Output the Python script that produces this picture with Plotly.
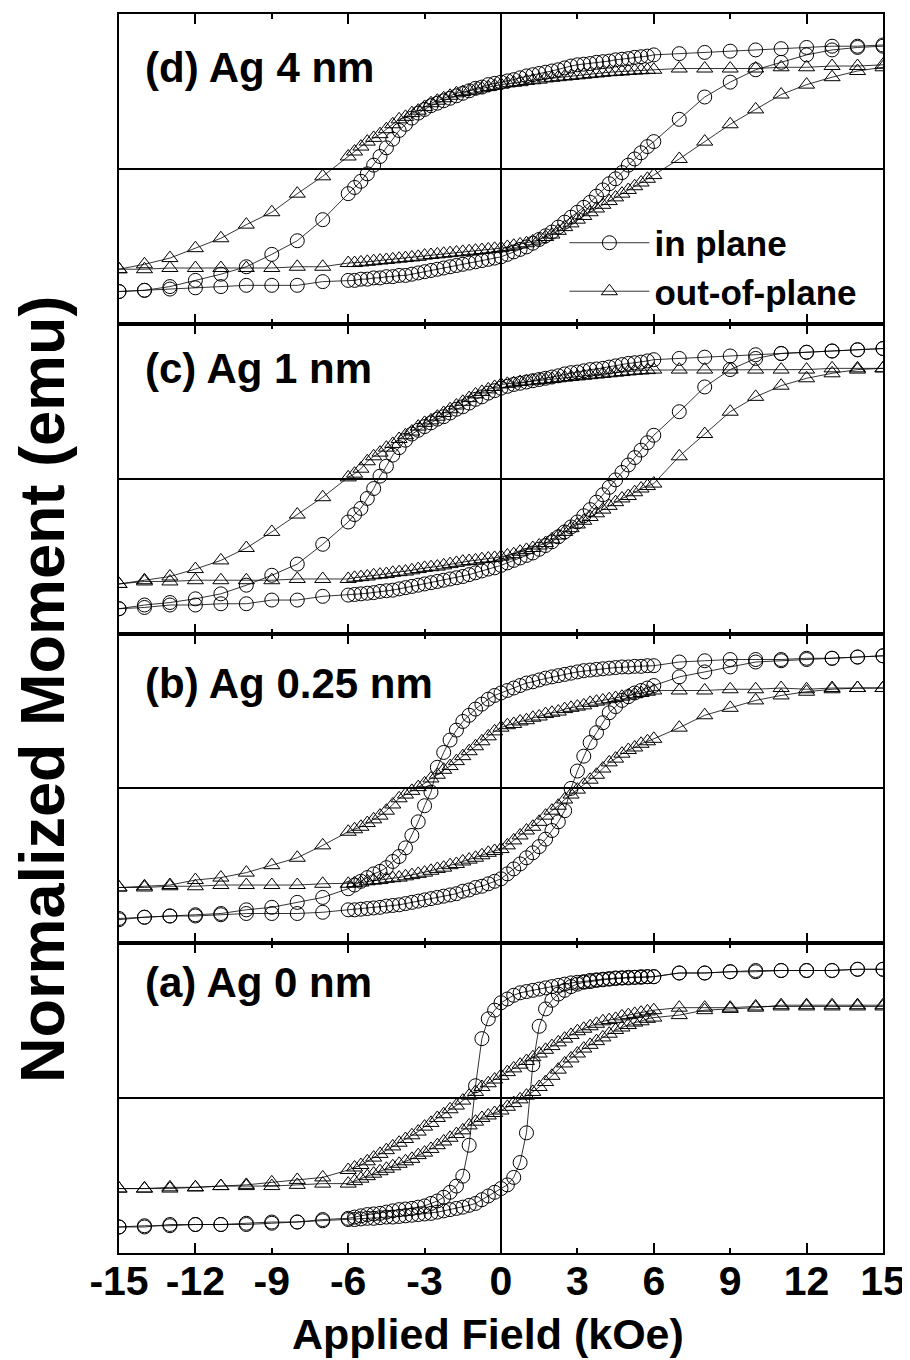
import plotly.graph_objects as go

# ---------------- data ----------------
FIELD = [-15, -14, -13, -12, -11, -10, -9, -8, -7,
         -6.0,
         -5.75, -5.5, -5.25, -5.0, -4.75, -4.5, -4.25, -4.0,
         -3.75, -3.5, -3.25, -3.0, -2.75, -2.5, -2.25, -2.0,
         -1.75, -1.5, -1.25, -1.0, -0.75, -0.5, -0.25, 0.0,
         0.25, 0.5, 0.75, 1.0, 1.25, 1.5, 1.75, 2.0,
         2.25, 2.5, 2.75, 3.0, 3.25, 3.5, 3.75, 4.0,
         4.25, 4.5, 4.75, 5.0, 5.25, 5.5, 5.75, 6.0,
         7, 8, 9, 10, 11, 12, 13, 14, 15]

TICK_VALUES = [-15, -12, -9, -6, -3, 0, 3, 6, 9, 12, 15]
TICK_LABELS = ["-15", "-12", "-9", "-6", "-3", "0", "3", "6", "9", "12", "15"]

# Panel (d) Ag 4 nm  -- values in ascending field order
D_IN_UP = [-0.99, -0.98, -0.97, -0.96, -0.95, -0.94, -0.94, -0.94, -0.91,
           -0.90,
           -0.90, -0.89, -0.89, -0.88, -0.88, -0.87, -0.87, -0.86,
           -0.86, -0.85, -0.84, -0.83, -0.82, -0.81, -0.80, -0.79,
           -0.78, -0.77, -0.76, -0.75, -0.74, -0.73, -0.72, -0.71,
           -0.69, -0.67, -0.65, -0.63, -0.60, -0.57, -0.54, -0.51,
           -0.47, -0.43, -0.39, -0.35, -0.31, -0.27, -0.22, -0.17,
           -0.12, -0.08, -0.03, 0.03, 0.08, 0.13, 0.18, 0.22,
           0.40, 0.58, 0.70, 0.80, 0.86, 0.92, 0.96, 0.98, 0.99]
D_IN_DN = [-0.99, -0.98, -0.95, -0.90, -0.85, -0.79, -0.69, -0.58, -0.41,
           -0.20,
           -0.15, -0.10, -0.04, 0.03, 0.10, 0.17, 0.24, 0.31,
           0.36, 0.41, 0.45, 0.48, 0.51, 0.53, 0.55, 0.57,
           0.59, 0.61, 0.63, 0.65, 0.66, 0.68, 0.69, 0.70,
           0.71, 0.72, 0.735, 0.75, 0.76, 0.77, 0.78, 0.79,
           0.80, 0.815, 0.83, 0.84, 0.845, 0.85, 0.86, 0.865,
           0.87, 0.88, 0.885, 0.89, 0.90, 0.905, 0.91, 0.92,
           0.93, 0.94, 0.95, 0.96, 0.97, 0.98, 0.99, 0.99, 1.00]
D_OUT_UP = [-0.81, -0.81, -0.80, -0.80, -0.80, -0.80, -0.80, -0.79, -0.79,
            -0.76,
            -0.76, -0.755, -0.75, -0.745, -0.74, -0.735, -0.73, -0.725,
            -0.72, -0.715, -0.71, -0.70, -0.695, -0.69, -0.685, -0.68,
            -0.675, -0.67, -0.665, -0.66, -0.655, -0.65, -0.645, -0.64,
            -0.63, -0.62, -0.61, -0.60, -0.585, -0.57, -0.55, -0.53,
            -0.50, -0.47, -0.44, -0.41, -0.38, -0.35, -0.32, -0.29,
            -0.26, -0.23, -0.20, -0.17, -0.14, -0.11, -0.08, -0.05,
            0.08, 0.22, 0.36, 0.48, 0.60, 0.68, 0.74, 0.79, 0.82]
D_OUT_DN = [-0.81, -0.77, -0.72, -0.64, -0.56, -0.45, -0.35, -0.20, -0.06,
            0.10,
            0.14, 0.18, 0.22, 0.25, 0.28, 0.32, 0.36, 0.40,
            0.42, 0.45, 0.47, 0.50, 0.53, 0.55, 0.57, 0.59,
            0.61, 0.62, 0.63, 0.64, 0.65, 0.66, 0.67, 0.68,
            0.69, 0.695, 0.70, 0.71, 0.715, 0.72, 0.73, 0.735,
            0.74, 0.745, 0.75, 0.755, 0.76, 0.765, 0.77, 0.775,
            0.78, 0.783, 0.786, 0.79, 0.793, 0.796, 0.798, 0.80,
            0.81, 0.81, 0.81, 0.81, 0.82, 0.82, 0.83, 0.83, 0.84]

# Panel (c) Ag 1 nm
C_IN_UP = [-1.05, -1.04, -1.02, -1.02, -1.01, -1.01, -0.98, -0.98, -0.95,
           -0.94,
           -0.935, -0.93, -0.925, -0.92, -0.91, -0.905, -0.90, -0.89,
           -0.88, -0.87, -0.86, -0.85, -0.84, -0.83, -0.82, -0.81,
           -0.80, -0.79, -0.775, -0.76, -0.745, -0.73, -0.72, -0.70,
           -0.68, -0.66, -0.64, -0.62, -0.60, -0.57, -0.54, -0.51,
           -0.47, -0.43, -0.39, -0.35, -0.30, -0.25, -0.19, -0.13,
           -0.07, -0.01, 0.05, 0.11, 0.17, 0.23, 0.29, 0.35,
           0.54, 0.74, 0.88, 0.97, 1.01, 1.02, 1.03, 1.04, 1.05]
C_IN_DN = [-1.05, -1.02, -1.00, -0.97, -0.93, -0.86, -0.78, -0.69, -0.53,
           -0.35,
           -0.29, -0.24, -0.16, -0.08, 0.02, 0.10, 0.19, 0.25,
           0.31, 0.36, 0.39, 0.42, 0.45, 0.48, 0.50, 0.53,
           0.56, 0.58, 0.61, 0.64, 0.66, 0.69, 0.71, 0.73,
           0.745, 0.76, 0.77, 0.78, 0.79, 0.80, 0.81, 0.82,
           0.83, 0.845, 0.855, 0.86, 0.87, 0.88, 0.885, 0.89,
           0.90, 0.91, 0.92, 0.93, 0.935, 0.94, 0.95, 0.96,
           0.97, 0.98, 0.99, 1.00, 1.01, 1.02, 1.03, 1.04, 1.05]
C_OUT_UP = [-0.85, -0.83, -0.83, -0.82, -0.82, -0.82, -0.82, -0.81, -0.81,
            -0.81,
            -0.80, -0.795, -0.79, -0.78, -0.775, -0.77, -0.76, -0.755,
            -0.75, -0.74, -0.73, -0.72, -0.715, -0.71, -0.70, -0.69,
            -0.68, -0.67, -0.665, -0.66, -0.65, -0.645, -0.64, -0.63,
            -0.62, -0.61, -0.59, -0.575, -0.56, -0.54, -0.52, -0.49,
            -0.46, -0.43, -0.40, -0.37, -0.34, -0.31, -0.28, -0.25,
            -0.22, -0.19, -0.16, -0.14, -0.11, -0.08, -0.06, -0.04,
            0.18, 0.36, 0.54, 0.66, 0.75, 0.81, 0.85, 0.88, 0.89]
C_OUT_DN = [-0.85, -0.82, -0.79, -0.73, -0.66, -0.56, -0.43, -0.29, -0.15,
            0.01,
            0.04, 0.08, 0.14, 0.18, 0.21, 0.25, 0.28, 0.32,
            0.35, 0.38, 0.42, 0.45, 0.47, 0.50, 0.53, 0.56,
            0.59, 0.62, 0.65, 0.68, 0.70, 0.72, 0.74, 0.76,
            0.765, 0.77, 0.78, 0.785, 0.79, 0.795, 0.80, 0.805,
            0.81, 0.815, 0.82, 0.825, 0.83, 0.835, 0.84, 0.845,
            0.85, 0.855, 0.86, 0.865, 0.87, 0.873, 0.876, 0.88,
            0.88, 0.88, 0.88, 0.88, 0.88, 0.88, 0.89, 0.89, 0.89]

# Panel (b) Ag 0.25 nm
B_IN_UP = [-1.06, -1.04, -1.03, -1.03, -1.02, -1.01, -1.01, -1.01, -1.00,
           -0.98,
           -0.98, -0.975, -0.97, -0.965, -0.96, -0.95, -0.945, -0.94,
           -0.93, -0.92, -0.91, -0.90, -0.89, -0.88, -0.87, -0.86,
           -0.85, -0.83, -0.82, -0.80, -0.79, -0.77, -0.75, -0.73,
           -0.69, -0.65, -0.61, -0.56, -0.52, -0.47, -0.41, -0.34,
           -0.27, -0.18, 0.00, 0.14, 0.26, 0.37, 0.45, 0.53,
           0.61, 0.66, 0.71, 0.74, 0.77, 0.79, 0.81, 0.83,
           0.90, 0.94, 0.98, 1.02, 1.03, 1.04, 1.05, 1.06, 1.07]
B_IN_DN = [-1.05, -1.04, -1.03, -1.02, -1.01, -0.98, -0.96, -0.92, -0.88,
           -0.81,
           -0.78, -0.75, -0.72, -0.69, -0.67, -0.64, -0.59, -0.55,
           -0.48, -0.38, -0.27, -0.14, -0.03, 0.17, 0.29, 0.39,
           0.47, 0.54, 0.59, 0.64, 0.68, 0.72, 0.75, 0.77,
           0.79, 0.81, 0.83, 0.85, 0.86, 0.875, 0.89, 0.90,
           0.91, 0.92, 0.93, 0.94, 0.95, 0.955, 0.96, 0.965,
           0.97, 0.975, 0.98, 0.98, 0.985, 0.985, 0.99, 0.99,
           1.02, 1.03, 1.04, 1.04, 1.04, 1.05, 1.05, 1.06, 1.07]
B_OUT_UP = [-0.80, -0.80, -0.79, -0.79, -0.78, -0.78, -0.78, -0.78, -0.77,
            -0.77,
            -0.765, -0.76, -0.75, -0.745, -0.74, -0.73, -0.725, -0.72,
            -0.71, -0.70, -0.69, -0.68, -0.665, -0.65, -0.64, -0.62,
            -0.61, -0.59, -0.575, -0.56, -0.54, -0.52, -0.505, -0.49,
            -0.46, -0.42, -0.38, -0.34, -0.31, -0.27, -0.22, -0.18,
            -0.14, -0.09, -0.05, -0.01, 0.03, 0.07, 0.11, 0.16,
            0.21, 0.24, 0.28, 0.31, 0.33, 0.36, 0.38, 0.40,
            0.49, 0.59, 0.65, 0.71, 0.75, 0.78, 0.80, 0.81, 0.81]
B_OUT_DN = [-0.80, -0.79, -0.78, -0.74, -0.72, -0.68, -0.62, -0.56, -0.46,
            -0.35,
            -0.33, -0.31, -0.28, -0.25, -0.22, -0.18, -0.13, -0.08,
            -0.05, -0.02, 0.01, 0.04, 0.08, 0.11, 0.15, 0.18,
            0.22, 0.26, 0.30, 0.34, 0.38, 0.42, 0.46, 0.49,
            0.51, 0.52, 0.54, 0.55, 0.57, 0.58, 0.60, 0.61,
            0.62, 0.64, 0.65, 0.66, 0.67, 0.69, 0.70, 0.71,
            0.72, 0.73, 0.74, 0.75, 0.76, 0.77, 0.78, 0.79,
            0.79, 0.79, 0.80, 0.80, 0.81, 0.80, 0.81, 0.81, 0.81]

# Panel (a) Ag 0 nm
A_IN_UP = [-1.04, -1.04, -1.02, -1.02, -1.02, -1.02, -1.01, -1.00, -0.99,
           -0.98,
           -0.98, -0.975, -0.97, -0.97, -0.965, -0.96, -0.96, -0.955,
           -0.95, -0.945, -0.94, -0.935, -0.93, -0.92, -0.91, -0.90,
           -0.89, -0.88, -0.865, -0.85, -0.82, -0.79, -0.76, -0.73,
           -0.70, -0.64, -0.52, -0.28, 0.27, 0.58, 0.72, 0.79,
           0.84, 0.87, 0.90, 0.92, 0.935, 0.94, 0.95, 0.955,
           0.96, 0.965, 0.97, 0.97, 0.975, 0.975, 0.98, 0.98,
           1.01, 1.01, 1.02, 1.03, 1.03, 1.03, 1.03, 1.04, 1.04]
A_IN_DN = [-1.04, -1.03, -1.03, -1.02, -1.02, -1.01, -1.00, -1.00, -0.98,
           -0.97,
           -0.96, -0.95, -0.94, -0.935, -0.93, -0.92, -0.91, -0.90,
           -0.895, -0.89, -0.88, -0.87, -0.85, -0.83, -0.80, -0.76,
           -0.71, -0.63, -0.38, 0.10, 0.48, 0.64, 0.71, 0.77,
           0.80, 0.83, 0.85, 0.86, 0.87, 0.88, 0.89, 0.90,
           0.91, 0.92, 0.93, 0.935, 0.94, 0.95, 0.955, 0.96,
           0.965, 0.97, 0.97, 0.975, 0.975, 0.98, 0.98, 0.98,
           1.01, 1.01, 1.02, 1.02, 1.03, 1.03, 1.03, 1.04, 1.04]
A_OUT_UP = [-0.73, -0.73, -0.73, -0.72, -0.71, -0.71, -0.71, -0.70, -0.69,
            -0.69,
            -0.67, -0.65, -0.63, -0.61, -0.59, -0.57, -0.55, -0.53,
            -0.51, -0.49, -0.46, -0.44, -0.41, -0.38, -0.35, -0.32,
            -0.29, -0.26, -0.22, -0.19, -0.16, -0.14, -0.12, -0.10,
            -0.07, -0.04, -0.01, 0.02, 0.05, 0.09, 0.13, 0.18,
            0.23, 0.28, 0.32, 0.36, 0.40, 0.43, 0.46, 0.49,
            0.52, 0.55, 0.57, 0.59, 0.61, 0.62, 0.64, 0.65,
            0.67, 0.71, 0.72, 0.73, 0.75, 0.75, 0.75, 0.75, 0.75]
A_OUT_DN = [-0.73, -0.73, -0.72, -0.72, -0.71, -0.70, -0.68, -0.66, -0.64,
            -0.58,
            -0.56, -0.54, -0.51, -0.48, -0.45, -0.42, -0.39, -0.36,
            -0.33, -0.30, -0.27, -0.23, -0.20, -0.16, -0.13, -0.09,
            -0.06, -0.02, 0.02, 0.05, 0.09, 0.12, 0.15, 0.18,
            0.21, 0.24, 0.27, 0.30, 0.33, 0.36, 0.39, 0.42,
            0.45, 0.48, 0.51, 0.54, 0.56, 0.58, 0.60, 0.62,
            0.63, 0.64, 0.66, 0.67, 0.68, 0.69, 0.70, 0.71,
            0.73, 0.73, 0.73, 0.74, 0.74, 0.74, 0.74, 0.74, 0.74]

PANEL_LABELS = ["(d) Ag 4 nm", "(c) Ag 1 nm", "(b) Ag 0.25 nm", "(a) Ag 0 nm"]
SERIES_NAMES = ["in plane", "out-of-plane"]

# ---------------- figure ----------------
SANS = "Liberation Sans, Arial, sans-serif"

panels = [
    (D_IN_DN, D_IN_UP, D_OUT_DN, D_OUT_UP),
    (C_IN_DN, C_IN_UP, C_OUT_DN, C_OUT_UP),
    (B_IN_DN, B_IN_UP, B_OUT_DN, B_OUT_UP),
    (A_IN_DN, A_IN_UP, A_OUT_DN, A_OUT_UP),
]
domains = [[0.75, 1.0], [0.5, 0.75], [0.25, 0.5], [0.0, 0.25]]
label_y = [0.82, 0.89, 0.85, 0.93]

fig = go.Figure()
loop_x = FIELD[::-1] + FIELD

for i, (in_dn, in_up, out_dn, out_up) in enumerate(panels):
    sfx = "" if i == 0 else str(i + 1)
    xa, ya = "x" + sfx, "y" + sfx
    fig.add_trace(go.Scatter(
        x=loop_x, y=in_dn[::-1] + in_up, xaxis=xa, yaxis=ya,
        mode="lines+markers", name=SERIES_NAMES[0], showlegend=(i == 0),
        line=dict(color="black", width=0.8),
        marker=dict(symbol="circle-open", size=14, color="black", line=dict(width=1))))
    fig.add_trace(go.Scatter(
        x=loop_x, y=out_dn[::-1] + out_up, xaxis=xa, yaxis=ya,
        mode="lines+markers", name=SERIES_NAMES[1], showlegend=(i == 0),
        line=dict(color="black", width=0.8),
        marker=dict(symbol="triangle-up-open", size=14, color="black", line=dict(width=1))))

    fig.layout["xaxis" + sfx] = dict(
        anchor=ya, domain=[0, 1], range=[-15, 15],
        showline=True, linecolor="black", linewidth=2, mirror="ticks",
        ticks="inside", tickvals=[-12, -6, 0, 6, 12], ticklen=10, tickwidth=2, tickcolor="black",
        minor=dict(tickvals=[-9, -3, 3, 9], ticklen=5, tickwidth=2, tickcolor="black", ticks="inside"),
        showticklabels=False, showgrid=False,
        zeroline=True, zerolinecolor="black", zerolinewidth=2)
    fig.layout["yaxis" + sfx] = dict(
        anchor=xa, domain=domains[i], range=[-1.25, 1.25],
        showline=True, linecolor="black", linewidth=2, mirror=True,
        ticks="", showticklabels=False, showgrid=False,
        zeroline=True, zerolinecolor="black", zerolinewidth=2)
    fig.add_annotation(text=PANEL_LABELS[i], xref=xa, yref=ya, x=-14.05, y=label_y[i],
                       xanchor="left", yanchor="middle", showarrow=False,
                       font=dict(family=SANS, size=42, color="black", weight="bold"))

# label-only axis overlaid on the bottom panel
fig.add_trace(go.Scatter(x=[], y=[], xaxis="x5", yaxis="y4", showlegend=False, hoverinfo="skip"))
fig.layout["xaxis5"] = dict(
    overlaying="x4", anchor="y4", side="bottom", range=[-15, 15],
    tickvals=TICK_VALUES, ticktext=TICK_LABELS, ticks="", showline=False,
    showgrid=False, zeroline=False, ticklabelstandoff=0,
    tickfont=dict(family=SANS, size=41, color="black", weight="bold"))

fig.add_annotation(text="Applied Field (kOe)", xref="paper", yref="paper",
                   x=0.483, y=-0.0653, xanchor="center", yanchor="middle", showarrow=False,
                   font=dict(family=SANS, size=43, color="black", weight="bold"))
fig.add_annotation(text="Normalized Moment (emu)", xref="paper", yref="paper",
                   x=-0.101, y=0.455, xanchor="center", yanchor="middle", showarrow=False,
                   textangle=-90,
                   font=dict(family=SANS, size=63, color="black", weight="bold"))

# The page body adds an 8 px margin, so the figure is made smaller and the
# margins are set so that the plot area lands at x 119-883, y 12-1253.
fig.update_layout(
    width=902, height=1352,
    margin=dict(l=111, r=27, t=4, b=107, pad=0),
    paper_bgcolor="white", plot_bgcolor="white",
    showlegend=True,
    legend=dict(x=0.583, y=0.839, xanchor="left", yanchor="top",
                bgcolor="rgba(0,0,0,0)", borderwidth=0, itemwidth=80,
                font=dict(family=SANS, size=35, color="black", weight="bold"),
                tracegroupgap=0),
)

fig.write_html("out.html")
